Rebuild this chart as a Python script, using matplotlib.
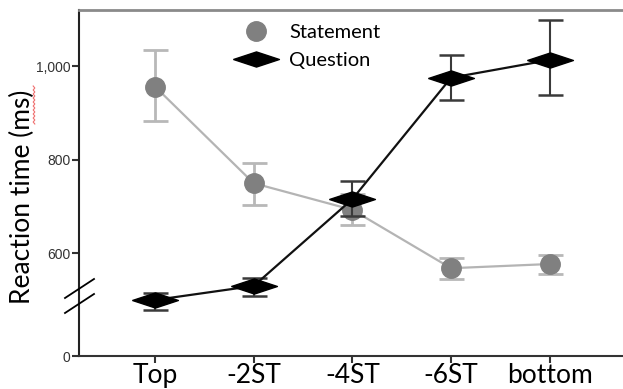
import numpy as np
import matplotlib
matplotlib.use('Agg')
import matplotlib.pyplot as plt
from matplotlib.lines import Line2D

# --------------------------------------------------
# Data (ms)
# --------------------------------------------------
categories = ['Top', '-2ST', '-4ST', '-6ST', 'bottom']

statement_mean = [957, 750, 693, 568, 577]
statement_low = [884, 704, 661, 544, 555]
statement_high = [1036, 793, 728, 589, 596]

question_mean = [500, 530, 716, 976, 1014]
question_low = [478, 508, 680, 929, 938]
question_high = [515, 546, 754, 1025, 1099]

# y axis is broken: bottom of the axis stands for 0
y_ticks = [380, 600, 800, 1000]
y_tick_labels = ['0', '600', '800', '1,000']

# --------------------------------------------------
# Figure
# --------------------------------------------------
W, H = 623, 389
fig = plt.figure(figsize=(W / 100, H / 100), dpi=100)
ax = fig.add_axes([79 / W, 33 / H, 1 - 79 / W, (356 - 10) / H])

x = np.arange(len(categories))

stmt_err = [np.array(statement_mean) - np.array(statement_low),
            np.array(statement_high) - np.array(statement_mean)]
q_err = [np.array(question_mean) - np.array(question_low),
         np.array(question_high) - np.array(question_mean)]

# wide flat diamond marker
diamond = [(-1, 0), (0, 0.33), (1, 0), (0, -0.33), (-1, 0)]

ax.errorbar(x, statement_mean, yerr=stmt_err, fmt='none', ecolor='#b8b8b8',
            elinewidth=2, capsize=9, capthick=2, zorder=2)
ax.plot(x, statement_mean, '-', color='#b4b4b4', lw=1.6, zorder=3)
ax.plot(x, statement_mean, 'o', color='#808080', ms=14, mec='#808080', zorder=4)

ax.errorbar(x, question_mean, yerr=q_err, fmt='none', ecolor='#3a3a3a',
            elinewidth=1.5, capsize=9, capthick=1.8, zorder=5)
ax.plot(x, question_mean, '-', color='#111111', lw=1.6, zorder=6)
ax.plot(x, question_mean, marker=diamond, ls='none', color='black', ms=33, zorder=7)

ax.set_xlim(-0.77, (W - 155) / 98.7)
ax.set_ylim(380, 1121)

ax.set_xticks(x)
ax.set_xticklabels(categories, fontsize=19, family='Lato')
ax.set_yticks(y_ticks)
ax.set_yticklabels(y_tick_labels, fontsize=10, family='Liberation Sans', color='#333333')
ax.tick_params(axis='both', direction='out', length=5, width=1.5, color='#333333')
ax.tick_params(axis='x', pad=0)
ax.tick_params(axis='y', pad=1)

ax.spines['right'].set_visible(False)
ax.spines['left'].set_color('#222222')
ax.spines['left'].set_linewidth(1.5)
ax.spines['bottom'].set_color('#333333')
ax.spines['bottom'].set_linewidth(1.5)
ax.spines['top'].set_color('#8a8a8a')
ax.spines['top'].set_linewidth(2)

fig.text(22 / W, 1 - 197 / H, 'Reaction time (ms)', rotation=90,
         ha='center', va='center', fontsize=19, family='Lato')

# spell-check squiggle under "ms"
sq_y = np.linspace(86, 124, 20)
sq_x = 34 + np.where(np.arange(20) % 2 == 0, -0.8, 0.8)
fig.add_artist(Line2D(sq_x / W, 1 - sq_y / H, color='#f07070', lw=0.8))

# axis break marks
for y0 in [298, 313]:
    fig.add_artist(Line2D([65 / W, 94 / W], [1 - y0 / H, 1 - (y0 - 19) / H],
                          color='black', lw=1.3))

# legend
handles = [Line2D([], [], marker='o', ls='none', color='#808080', ms=14),
           Line2D([], [], marker=diamond, ls='none', color='black', ms=33)]
ax.legend(handles, ['Statement', 'Question'], loc='upper left',
          bbox_to_anchor=((228 - 79) / (W - 79), 1 - 11 / 346), frameon=False,
          borderaxespad=0, borderpad=0.15, handlelength=2.5,
          handletextpad=0.4, labelspacing=0.55,
          prop={'family': 'Lato', 'size': 14.5})

plt.savefig('out.png', dpi=100)
plt.close()
